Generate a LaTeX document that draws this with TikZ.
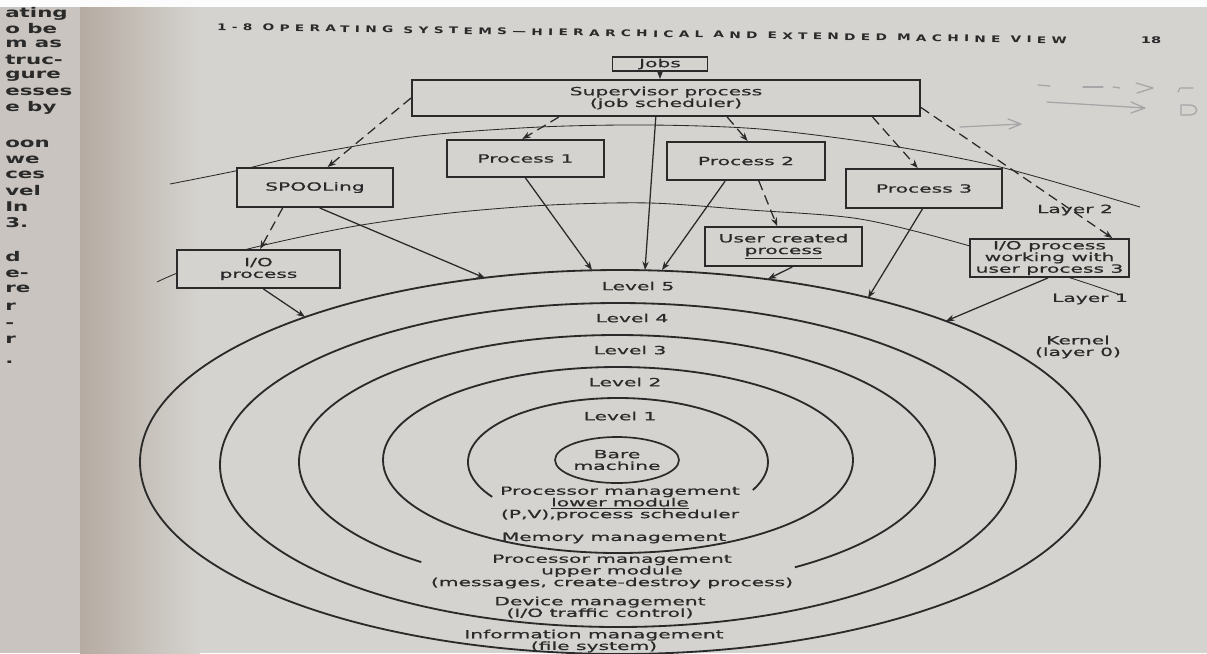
\documentclass[tikz,border=0pt]{standalone}
\usepackage{fontspec}
\newfontfamily\dgfont{DejaVu Sans}[FakeStretch=1.8,FakeBold=0.8]
\newfontfamily\hdfont{DejaVu Sans Bold}[FakeStretch=1.5,LetterSpace=58]
\newfontfamily\mgfont{DejaVu Sans Bold}[FakeStretch=1.6]
\usetikzlibrary{arrows.meta,calc,shapes.geometric}

\definecolor{paper}{HTML}{D5D3CF}
\definecolor{leftpage}{HTML}{C9C4BF}
\definecolor{gutter}{HTML}{B5ABA2}
\definecolor{ink}{HTML}{2A2A2A}
\definecolor{pencil}{HTML}{A6A6A8}

\tikzset{
  wh/.style 2 args={minimum width=#1*0.025cm, minimum height=#2*0.025cm},
  box/.style={draw=ink, line width=1.4pt, fill=paper, inner sep=0pt, align=center},
  ring/.style={draw=ink, line width=1.3pt},
  link/.style={draw=ink, line width=0.9pt, -{Stealth[length=6pt,width=4.5pt]}},
  dlink/.style={link, dash pattern=on 7pt off 4pt},
  layerline/.style={draw=ink, line width=0.6pt},
  pencilmark/.style={draw=pencil, line width=0.9pt, line cap=round, line join=round},
  lbl/.style={inner sep=0pt, align=center, text=ink},
  frag/.style={anchor=west, inner sep=0pt, text=ink,
    font=\mgfont\fontsize{9.5}{9.5}\selectfont},
}

\begin{document}
\begin{tikzpicture}[x=0.025cm, y=-0.025cm,
  font=\dgfont\fontsize{8}{8.3}\selectfont, text=ink]
\useasboundingbox (0,0) rectangle (1207,653);

% paper, neighbouring page and gutter shadow
\fill[paper] (0,0) rectangle (1207,653);
\fill[leftpage] (0,0) rectangle (80,653);
\shade[left color=gutter, right color=paper] (80,0) rectangle (200,653);
\fill[white!94!paper] (0,0) rectangle (1207,7);

% text of the facing page, cut at the margin
\foreach \t/\yy [count=\i] in {ating/14, o be/29, m as/44, truc-/60, gure/76,
    esses/92, e by/108, oon/144, we/160, ces/175, vel/191, In/207, 3./223,
    d/257, e-/274, re/289, r/307, -/325, r/340, ./362}
  \node[frag] (frag\i) at (5,\yy) {\t};

% running head
\node[inner sep=0pt, rotate=-0.9, text=ink,
  font=\hdfont\fontsize{6.5}{7}\selectfont] (head) at (642,33.5)
  {1-8 OPERATING SYSTEMS—HIERARCHICAL AND EXTENDED MACHINE VIEW};
\node[inner sep=0pt, text=ink, font=\mgfont\fontsize{6.5}{7}\selectfont]
  (pageno) at (1151,40) {18};

% layer boundaries
\draw[layerline] plot[smooth] coordinates {(170,184) (240,170) (300,156) (420,136)
  (540,127) (650,125) (760,129) (880,144) (1000,167) (1140,207)};
\draw[layerline] plot[smooth] coordinates {(157,282) (180,272) (240,251) (350,227)
  (450,213) (550,205) (650,203) (750,210) (860,219) (970,246) (1080,281) (1118,294)};

% kernel levels
\draw[ring] (620,462) ellipse[x radius=480, y radius=192];
\draw[ring] (618,465) ellipse[x radius=398, y radius=162];
\draw[ring] (617,462) ++(128:318 and 127)
  arc[start angle=128, end angle=416, x radius=318, y radius=127];
\draw[ring] (618,460) ellipse[x radius=235, y radius=93];
\draw[ring] (618,462) ++(147:150 and 64)
  arc[start angle=147, end angle=386, x radius=150, y radius=64];
\node[draw=ink, line width=1.2pt, ellipse, wh={124}{46}, inner sep=0pt, align=center]
  (bare) at (617,460) {Bare\\machine};

% processes
\node[box, wh={95}{14}] (jobs) at (660,64) {Jobs};
\node[box, wh={508}{36}] (sup) at (666,98) {Supervisor process\\(job scheduler)};
\node[box, wh={156}{39}] (spool) at (315,187.5) {SPOOLing};
\node[box, wh={157}{37}] (p1) at (525.5,158.5) {Process 1};
\node[box, wh={158}{38}] (p2) at (746,161) {Process 2};
\node[box, wh={156}{39}] (p3) at (924,188.5) {Process 3};
\node[box, wh={157}{39}] (user) at (783.5,246.5) {User created\\\underline{process}};
\node[box, wh={163}{38}] (iop) at (258.5,269) {I/O\\process};
\node[box, wh={159}{38}] (iow) at (1049.5,258) {I/O process\\working with\\user process 3};

% where calls reach the outer level
\coordinate (r-iop) at (305,317);
\coordinate (r-spool) at (485,278);
\coordinate (r-p1) at (592,270);
\coordinate (r-sup) at (645,270);
\coordinate (r-p2) at (662,270);
\coordinate (r-user) at (768,279);
\coordinate (r-p3) at (868,298);
\coordinate (r-iow) at (946,321);

% calls into the kernel
\draw[link] (jobs.south) -- (jobs.south |- sup.north);
\draw[link] ($(iop.south west)!0.53!(iop.south east)$) -- (r-iop);
\draw[link] ($(spool.south west)!0.53!(spool.south east)$) -- (r-spool);
\draw[link] (p1.south) -- (r-p1);
\draw[link] ($(sup.south west)!0.48!(sup.south east)$) -- (r-sup);
\draw[link] ($(p2.south west)!0.37!(p2.south east)$) -- (r-p2);
\draw[link] ($(user.south west)!0.555!(user.south east)$) -- (r-user);
\draw[link] ($(p3.south west)!0.49!(p3.south east)$) -- (r-p3);
\draw[link] ($(iow.south west)!0.49!(iow.south east)$) -- (r-iow);

% process creation
\draw[dlink] ($(sup.north west)!0.5!(sup.south west)$) -- ($(spool.north west)!0.58!(spool.north east)$);
\draw[dlink] ($(sup.south west)!0.29!(sup.south east)$) -- ($(p1.north west)!0.48!(p1.north east)$);
\draw[dlink] ($(sup.south west)!0.62!(sup.south east)$) -- ($(p2.north west)!0.51!(p2.north east)$);
\draw[dlink] ($(sup.south west)!0.905!(sup.south east)$) -- ($(p3.north west)!0.46!(p3.north east)$);
\draw[dlink] ($(sup.north east)!0.75!(sup.south east)$) -- ($(iow.north west)!0.89!(iow.north east)$);
\draw[dlink] ($(spool.south west)!0.295!(spool.south east)$) -- ($(iop.north west)!0.51!(iop.north east)$);
\draw[dlink] ($(p2.south west)!0.58!(p2.south east)$) -- ($(user.north west)!0.46!(user.north east)$);

% level names
\node[lbl] (lv5) at (638,286) {Level 5};
\node[lbl] (lv4) at (632,318) {Level 4};
\node[lbl] (lv3) at (630,350) {Level 3};
\node[lbl] (lv2) at (625,382) {Level 2};
\node[lbl] (lv1) at (620,416) {Level 1};

% what each level manages
\node[lbl] (pml) at (620,503.5) {Processor management\\\underline{lower module}\\(P,V),process scheduler};
\node[lbl] (mm) at (614,538) {Memory management};
\node[lbl] (pmu) at (612,571.5) {Processor management\\upper module\\(messages, create-destroy process)};
\node[lbl] (dm) at (600,607.5) {Device management\\(I/O traffic control)};
\node[lbl] (im) at (594,641) {Information management\\(file system)};

% layers
\node[lbl] (l2) at (1075,210) {Layer 2};
\node[lbl] (l1) at (1090,299) {Layer 1};
\node[lbl] (kern) at (1078,347) {Kernel\\(layer 0)};

% pencil notes in the margin
\draw[pencilmark] (1038,85) -- (1050,86);
\draw[pencilmark] (1083,87) -- (1103,87);
\draw[pencilmark] (1113,87) -- (1120,88);
\draw[pencilmark] (1136,83) -- (1153,88) -- (1137,93);
\draw[pencilmark] (1178,92) -- (1180,88) -- (1193,88);
\draw[pencilmark] (1047,102) -- (1145,108) (1131,102) -- (1145,108) -- (1131,113);
\draw[pencilmark] (1181,105) -- (1190,105) .. controls (1199,106) and (1199,114) .. (1190,115) -- (1181,115) -- cycle;
\draw[pencilmark] (960,127) -- (1021,124) (1008,119) -- (1021,124) -- (1009,129);
\end{tikzpicture}
\end{document}
